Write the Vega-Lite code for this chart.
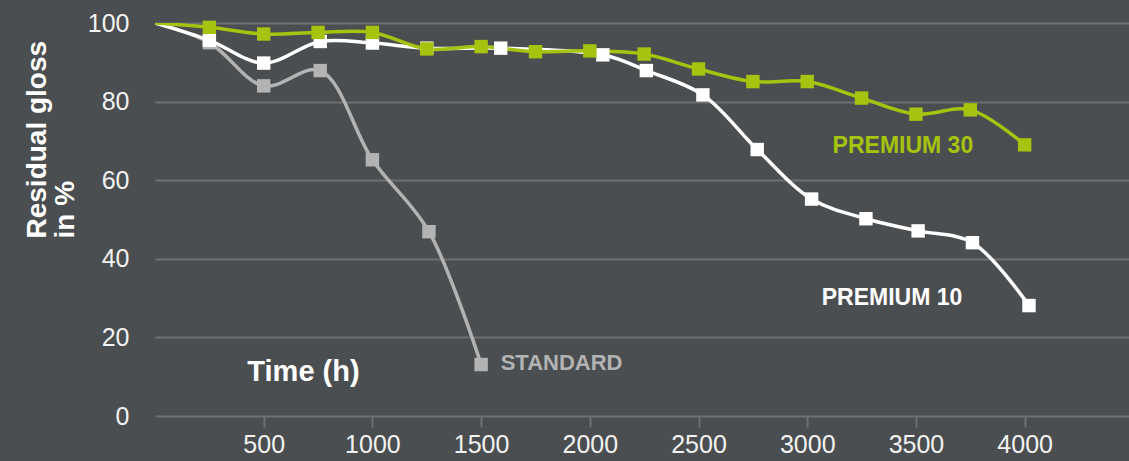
{
  "$schema": "https://vega.github.io/schema/vega-lite/v6.json",
  "width": 974,
  "height": 393,
  "autosize": "none",
  "padding": {"left": 155, "top": 23, "right": 0, "bottom": 45},
  "background": "#4b4e50",
  "config": {
    "view": {"stroke": null},
    "font": "Liberation Sans"
  },
  "datasets": {
    "gloss": [
      {"product": "STANDARD", "t": 0, "gloss": 100},
      {"product": "STANDARD", "t": 250, "gloss": 95},
      {"product": "STANDARD", "t": 500, "gloss": 84},
      {"product": "STANDARD", "t": 760, "gloss": 87.9},
      {"product": "STANDARD", "t": 1000, "gloss": 65.2},
      {"product": "STANDARD", "t": 1260, "gloss": 46.9},
      {"product": "STANDARD", "t": 1500, "gloss": 13.1},
      {"product": "PREMIUM 10", "t": 0, "gloss": 100},
      {"product": "PREMIUM 10", "t": 250, "gloss": 95.6},
      {"product": "PREMIUM 10", "t": 500, "gloss": 89.8},
      {"product": "PREMIUM 10", "t": 760, "gloss": 95.3},
      {"product": "PREMIUM 10", "t": 1000, "gloss": 94.9},
      {"product": "PREMIUM 10", "t": 1250, "gloss": 93.6},
      {"product": "PREMIUM 10", "t": 1590, "gloss": 93.6},
      {"product": "PREMIUM 10", "t": 2060, "gloss": 91.9},
      {"product": "PREMIUM 10", "t": 2260, "gloss": 87.9},
      {"product": "PREMIUM 10", "t": 2520, "gloss": 81.7},
      {"product": "PREMIUM 10", "t": 2770, "gloss": 67.8},
      {"product": "PREMIUM 10", "t": 3020, "gloss": 55.2},
      {"product": "PREMIUM 10", "t": 3270, "gloss": 50.2},
      {"product": "PREMIUM 10", "t": 3510, "gloss": 47.1},
      {"product": "PREMIUM 10", "t": 3760, "gloss": 44.1},
      {"product": "PREMIUM 10", "t": 4020, "gloss": 28.1},
      {"product": "PREMIUM 30", "t": 0, "gloss": 100},
      {"product": "PREMIUM 30", "t": 250, "gloss": 98.9},
      {"product": "PREMIUM 30", "t": 500, "gloss": 97.2},
      {"product": "PREMIUM 30", "t": 750, "gloss": 97.6},
      {"product": "PREMIUM 30", "t": 1000, "gloss": 97.6},
      {"product": "PREMIUM 30", "t": 1250, "gloss": 93.4},
      {"product": "PREMIUM 30", "t": 1500, "gloss": 94.0},
      {"product": "PREMIUM 30", "t": 1750, "gloss": 92.7},
      {"product": "PREMIUM 30", "t": 2000, "gloss": 92.9},
      {"product": "PREMIUM 30", "t": 2250, "gloss": 92.1},
      {"product": "PREMIUM 30", "t": 2500, "gloss": 88.3},
      {"product": "PREMIUM 30", "t": 2750, "gloss": 85.1},
      {"product": "PREMIUM 30", "t": 3000, "gloss": 85.1},
      {"product": "PREMIUM 30", "t": 3250, "gloss": 80.9},
      {"product": "PREMIUM 30", "t": 3500, "gloss": 76.8},
      {"product": "PREMIUM 30", "t": 3750, "gloss": 77.9},
      {"product": "PREMIUM 30", "t": 4000, "gloss": 69.0}
    ],
    "labels": [
      {"text": "PREMIUM 30", "product": "PREMIUM 30", "t": 3440, "gloss": 68.8, "size": 23},
      {"text": "PREMIUM 10", "product": "PREMIUM 10", "t": 3390, "gloss": 29.9, "size": 23},
      {"text": "Time (h)", "product": "PREMIUM 10", "t": 683, "gloss": 11.1, "size": 29}
    ]
  },
  "layer": [
    {
      "data": {"name": "gloss"},
      "mark": {"type": "line", "interpolate": "catmull-rom", "strokeWidth": 3.5, "clip": true},
      "encoding": {
        "x": {"field": "t", "type": "quantitative",
          "scale": {"domain": [0, 4480], "nice": false},
          "axis": {"values": [500, 1000, 1500, 2000, 2500, 3000, 3500, 4000], "format": "d", "title": null, "grid": false, "domain": false,
            "ticks": true, "tickSize": 11, "tickWidth": 2, "tickColor": "#6f6f6f",
            "labelFontSize": 25, "labelColor": "#f2f2f2", "labelPadding": 5, "labelFont": "Liberation Sans"}},
        "y": {"field": "gloss", "type": "quantitative",
          "scale": {"domain": [0, 100], "nice": false},
          "axis": {"values": [0, 20, 40, 60, 80, 100], "grid": true, "gridColor": "#6f6f6f", "gridWidth": 2,
            "domain": false, "ticks": false, "labelFontSize": 25, "labelColor": "#f2f2f2", "labelPadding": 26,
            "labelFont": "Liberation Sans",
            "title": ["Residual gloss", "in %"], "titleFontSize": 28, "titleFont": "Liberation Sans", "titleFontWeight": "bold",
            "titleColor": "#ffffff", "titleAngle": -90, "titleAlign": "left", "titleBaseline": "top",
            "titleX": -132, "titleY": 215, "titleLineHeight": 28}},
        "color": {"field": "product", "type": "nominal", "legend": null,
          "scale": {"domain": ["STANDARD", "PREMIUM 10", "PREMIUM 30"], "range": ["#b3b3b3", "#ffffff", "#a5c30f"]}},
        "order": {"field": "t"}
      }
    },
    {
      "data": {"name": "gloss"},
      "transform": [{"filter": "datum.t > 0"}],
      "mark": {"type": "point", "shape": "square", "filled": true, "opacity": 1, "size": 180},
      "encoding": {
        "x": {"field": "t", "type": "quantitative"},
        "y": {"field": "gloss", "type": "quantitative"},
        "color": {"field": "product", "type": "nominal", "legend": null}
      }
    },
    {
      "data": {"values": [{"text": "STANDARD", "product": "STANDARD", "t": 1590, "gloss": 13.6}]},
      "mark": {"type": "text", "align": "left", "baseline": "middle", "fontWeight": "bold", "fontSize": 22, "font": "Liberation Sans"},
      "encoding": {
        "x": {"field": "t", "type": "quantitative"},
        "y": {"field": "gloss", "type": "quantitative"},
        "text": {"field": "text"},
        "color": {"field": "product", "type": "nominal", "legend": null}
      }
    },
    {
      "data": {"name": "labels"},
      "mark": {"type": "text", "align": "center", "baseline": "middle", "fontWeight": "bold", "font": "Liberation Sans"},
      "encoding": {
        "x": {"field": "t", "type": "quantitative"},
        "y": {"field": "gloss", "type": "quantitative"},
        "text": {"field": "text"},
        "size": {"field": "size", "type": "quantitative", "scale": null},
        "color": {"field": "product", "type": "nominal", "legend": null}
      }
    }
  ]
}
